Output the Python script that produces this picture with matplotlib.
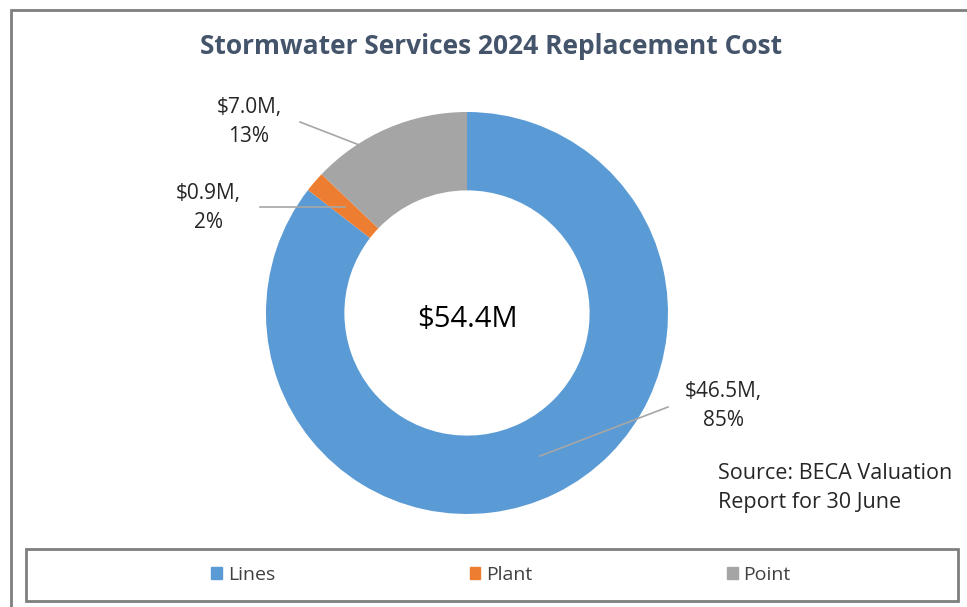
import matplotlib.pyplot as plt
from matplotlib.patches import Rectangle

plt.rcParams['font.family'] = ['Open Sans', 'DejaVu Sans']

categories = ["Lines", "Plant", "Point"]
values = [46.5, 0.9, 7.0]          # $M
percents = [85, 2, 13]
colors = ["#5B9BD5", "#ED7D31", "#A5A5A5"]
total_label = "$54.4M"

W, H = 967, 607
fig = plt.figure(figsize=(W / 100, H / 100), dpi=100)

# outer chart frame (runs off right and bottom edges)
fig.patches.append(Rectangle((11 / W, -0.05), 1.0, 1 - 10 / H + 0.05,
                             transform=fig.transFigure, fill=False,
                             edgecolor="#7F7F7F", linewidth=2))

fig.text(491 / W, 1 - 47 / H, "Stormwater Services 2024 Replacement Cost",
         ha="center", va="center", fontsize=19, fontweight="bold",
         color="#44546A")

# donut: centre (467, 313), outer radius ~201 px
r = 201
ax = fig.add_axes([(467 - r) / W, 1 - (313 + r) / H, 2 * r / W, 2 * r / H])
wedges, _ = ax.pie(values, colors=colors, startangle=90, counterclock=False,
                   wedgeprops=dict(width=0.39, edgecolor="none"))
ax.set_xlim(-1, 1)
ax.set_ylim(-1, 1)
ax.set_aspect("equal")
ax.axis("off")

ax.text(0, -0.03, total_label, ha="center", va="center", fontsize=21,
        color="#000000")

# data labels with leader lines (px positions converted to data units)
def px(x, y):
    return ((x - 467) / r, (313 - y) / r)

labels = [f"${v:.1f}M,\n{p}%" for v, p in zip(values, percents)]
label_pos = [(723, 406), (208, 208), (249, 122)]
line_pts = [[(668, 407), (540, 456)],
            [(260, 207), (345, 207)],
            [(300, 122), (398, 160)]]
for lab, (lx, ly), pts in zip(labels, label_pos, line_pts):
    (x0, y0), (x1, y1) = px(*pts[0]), px(*pts[1])
    ax.plot([x0, x1], [y0, y1], color="#A6A6A6", linewidth=1.2,
            clip_on=False)
    tx, ty = px(lx, ly)
    ax.text(tx, ty, lab, ha="center", va="center", fontsize=15,
            color="#262626", linespacing=1.45, clip_on=False)

fig.text(718 / W, 1 - 488 / H, "Source: BECA Valuation\nReport for 30 June",
         ha="left", va="center", fontsize=15.5, color="#262626",
         linespacing=1.45)

# legend box
fig.patches.append(Rectangle((26 / W, 1 - 601 / H), 932 / W, 52 / H,
                             transform=fig.transFigure, fill=False,
                             edgecolor="#7F7F7F", linewidth=2))
handles = [Rectangle((0, 0), 1, 1, color=c) for c in colors]
fig.legend(handles, categories, loc="center", ncol=3,
           bbox_to_anchor=(501 / W, 1 - 575 / H), frameon=False,
           fontsize=14, handlelength=0.55, handleheight=0.55,
           handletextpad=0.3, columnspacing=10.0, labelcolor="#404040")

fig.savefig("out.png", dpi=100)
